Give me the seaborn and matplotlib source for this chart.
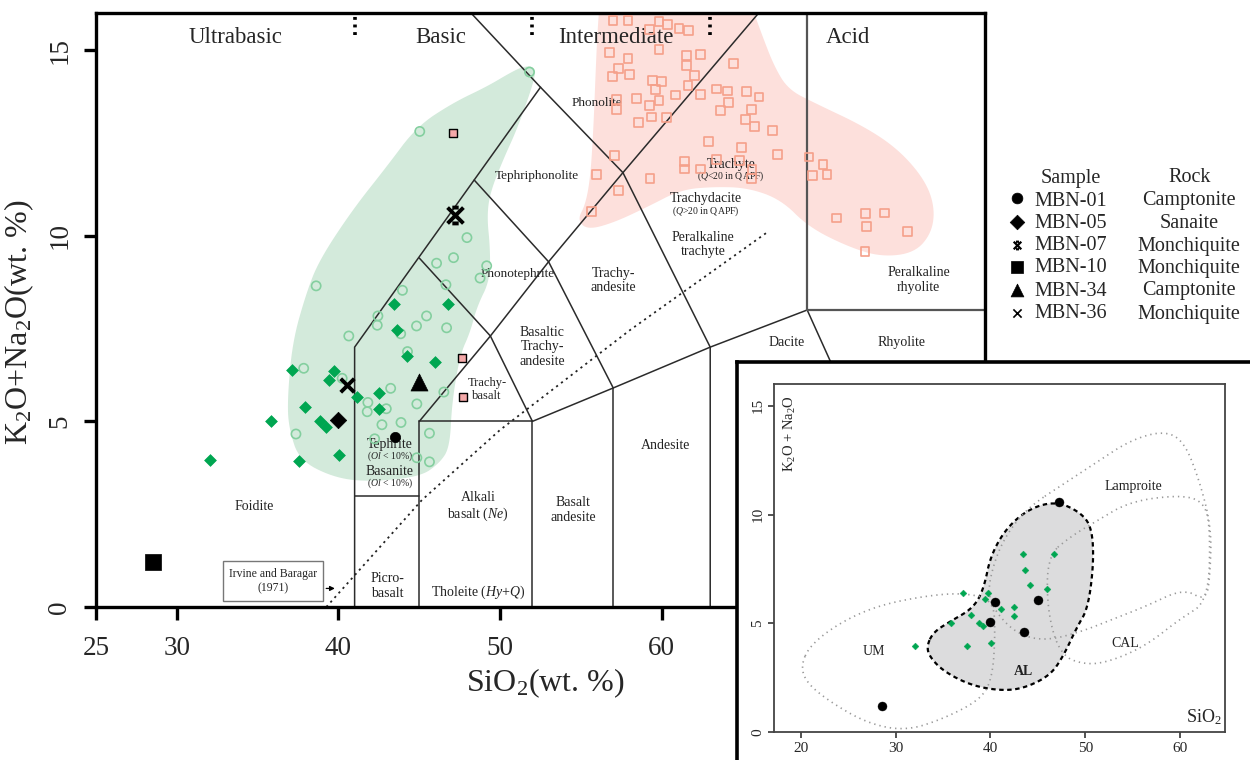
import numpy as np
import matplotlib
matplotlib.use("Agg")
import matplotlib.pyplot as plt
from matplotlib.path import Path
from matplotlib.patches import Polygon, Rectangle
import seaborn as sns

# ------------------------------------------------------------------ data
sample_ids = ["MBN-01", "MBN-05", "MBN-07", "MBN-10", "MBN-34", "MBN-36"]
sample_rocks = ["Camptonite", "Sanaite", "Monchiquite", "Monchiquite", "Camptonite", "Monchiquite"]
sample_sio2 = [43.5, 40.0, 47.2, 28.5, 45.0, 40.5]
sample_alk = [4.58, 5.04, 10.57, 1.21, 6.06, 5.98]

diamond_sio2 = [37.14, 39.73, 39.44, 41.15, 37.96, 38.83, 39.24, 35.84, 32.04, 37.55,
                40.02, 42.53, 42.53, 44.21, 46.00, 43.60, 43.41, 46.75]
diamond_alk = [6.39, 6.37, 6.12, 5.65, 5.38, 5.02, 4.86, 5.02, 3.96, 3.94,
               4.10, 5.76, 5.33, 6.75, 6.59, 7.45, 8.17, 8.17]

circle_sio2 = [51.82, 45.03, 47.95, 47.12, 46.07, 49.17, 48.76, 38.62, 43.96, 46.65,
               42.44, 42.40, 45.45, 44.83, 46.69, 43.85, 40.64, 44.27, 37.85, 40.23,
               43.23, 46.52, 41.82, 41.78, 42.96, 44.85, 42.69, 43.87, 37.37, 42.24,
               45.63, 44.85, 45.63]
circle_alk = [14.41, 12.81, 9.95, 9.41, 9.26, 9.19, 8.86, 8.65, 8.53, 8.68,
              7.84, 7.59, 7.84, 7.57, 7.52, 7.36, 7.30, 6.88, 6.43, 6.16,
              5.89, 5.79, 5.51, 5.26, 5.34, 5.47, 4.91, 4.97, 4.66, 4.53,
              4.68, 4.02, 3.91]

square_sio2 = [56.98, 57.91, 59.83, 60.35, 61.07, 61.66, 59.25, 59.83, 56.79, 57.91,
               61.53, 62.42, 64.43, 61.53, 57.31, 58.03, 56.96, 62.05, 59.42, 59.98,
               61.63, 59.63, 63.40, 64.06, 65.26, 66.02, 62.38, 60.87, 58.45, 59.83,
               64.12, 57.19, 57.19, 59.25, 63.66, 65.55, 60.31, 59.36, 65.17, 58.55,
               65.76, 66.83, 62.88, 64.95, 67.14, 57.06, 61.41, 61.41, 63.40, 62.38,
               64.80, 55.96, 59.27, 57.31, 55.65, 65.59, 65.55, 69.11, 69.98, 69.32,
               70.23, 70.81, 72.63, 73.77, 72.69, 75.22, 72.57]
square_alk = [15.80, 15.80, 15.78, 15.69, 15.58, 15.53, 15.55, 15.01, 14.94, 14.77,
              14.86, 14.88, 14.64, 14.58, 14.50, 14.35, 14.29, 14.32, 14.19, 14.16,
              14.04, 13.94, 13.95, 13.90, 13.89, 13.74, 13.81, 13.79, 13.70, 13.64,
              13.59, 13.67, 13.40, 13.50, 13.38, 13.40, 13.19, 13.20, 13.13, 13.04,
              12.94, 12.83, 12.53, 12.38, 12.18, 12.16, 12.00, 11.80, 12.05, 11.80,
              12.03, 11.66, 11.54, 11.21, 10.65, 11.78, 11.54, 12.12, 11.91, 11.62,
              11.65, 10.48, 10.59, 10.61, 10.25, 10.11, 9.57]

pinkfill_sio2 = [47.10, 47.67, 47.70]
pinkfill_alk = [12.78, 6.70, 5.65]

green_field = [(52.05, 14.56), (52.24, 14.34), (51.12, 12.94), (50.19, 12.05), (49.38, 11.16),
               (49.19, 10.51), (49.38, 9.70), (49.38, 8.81), (48.57, 8.09), (48.14, 7.39),
               (47.52, 6.79), (47.02, 5.50), (46.89, 4.31), (46.27, 3.88), (45.03, 3.50),
               (41.74, 3.37), (39.63, 3.50), (37.58, 3.96), (36.96, 4.77), (36.83, 5.50),
               (37.14, 7.12), (38.01, 8.46), (38.82, 9.35), (40.87, 10.70), (42.98, 11.86),
               (44.84, 12.94), (47.08, 13.58), (49.19, 14.02), (50.62, 14.39), (51.43, 14.56)]
pink_field = [(56.21, 16.6), (56.02, 15.47), (55.90, 14.29), (55.78, 12.94), (55.59, 11.59),
              (55.28, 10.84), (54.78, 10.43), (55.40, 10.16), (57.02, 10.35), (59.13, 10.78),
              (61.18, 11.24), (63.23, 11.32), (65.34, 11.29), (67.39, 10.97), (69.07, 10.24),
              (71.55, 9.70), (73.60, 9.43), (75.65, 9.54), (76.71, 10.08), (76.89, 10.78),
              (76.27, 11.51), (74.66, 12.32), (72.55, 12.94), (69.44, 13.58), (67.83, 13.94),
              (66.96, 14.56), (66.15, 15.47), (65.22, 16.6)]

tas_lines = [
    [(41, 0), (41, 7), (52.5, 14), (48.2, 16)],
    [(52.5, 14), (57.6, 11.7), (63, 7), (63, 0)],
    [(41, 3), (45, 3)],
    [(45, 0), (45, 5), (52, 5), (52, 0)],
    [(52, 5), (57, 5.9), (63, 7), (69, 8)],
    [(57, 0), (57, 5.9)],
    [(45, 5), (49.4, 7.3), (53, 9.3), (57.6, 11.7), (66.0, 16)],
    [(45, 9.4), (49.4, 7.3), (52, 5)],
    [(48.4, 11.5), (53, 9.3), (57, 5.9)],
    [(69, 8), (77.3, 0)],
]
acid_lines = [[(69, 8), (69, 16)], [(69, 8), (80, 8)]]
irvine_sio2 = [39.25, 45.16, 50.0, 58.07, 66.58]
irvine_alk = [0.0, 2.88, 4.77, 7.47, 10.11]

field_labels = [
    ("Phonolite", 55.96, 13.58, 9.5), ("Tephriphonolite", 52.30, 11.62, 9.5),
    ("Phonotephrite", 51.06, 8.98, 9.5), ("Trachyte", 64.29, 11.92, 10),
    ("Trachydacite", 62.73, 10.99, 10), ("Peralkaline\ntrachyte", 62.55, 9.76, 10),
    ("Trachy-\nandesite", 57.02, 8.79, 10), ("Basaltic\nTrachy-\nandesite", 52.61, 7.01, 10),
    ("Trachy-\nbasalt", 49.19, 5.85, 9), ("Tephrite", 43.17, 4.38, 10),
    ("Basanite", 43.17, 3.66, 10), ("Foidite", 34.78, 2.70, 10),
    ("Picro-\nbasalt", 43.04, 0.57, 10), ("Alkali\nbasalt ($\\it{Ne}$)", 48.63, 2.70, 10),
    ("Tholeite ($\\it{Hy}$+$\\it{Q}$)", 48.63, 0.40, 10), ("Basalt\nandesite", 54.53, 2.61, 10),
    ("Andesite", 60.25, 4.34, 10), ("Dacite", 67.70, 7.12, 10), ("Rhyolite", 74.84, 7.12, 10),
    ("Peralkaline\nrhyolite", 75.90, 8.81, 10),
]
small_labels = [
    ("($\\it{Q}$<20 in QAPF)", 64.29, 11.60), ("($\\it{Q}$>20 in QAPF)", 62.73, 10.67),
    ("($\\it{Ol}$ < 10%)", 43.17, 4.07), ("($\\it{Ol}$ < 10%)", 43.17, 3.33),
]
zone_labels = [("Ultrabasic", 33.66), ("Basic", 46.34), ("Intermediate", 57.14), ("Acid", 71.55)]
zone_ticks = [41, 52, 63]

# inset (lamprophyre classification) fields
um_field = [(20.0, 3.1), (21.0, 4.0), (24.0, 5.0), (28.0, 5.8), (33.0, 6.25), (37.0, 6.4),
            (40.3, 6.1), (40.5, 4.5), (40.2, 2.5), (39.0, 1.5), (35.0, 0.6), (31.0, 0.05),
            (27.0, 0.4), (23.0, 1.4), (20.5, 2.3)]
al_field = [(33.3, 4.0), (34.0, 4.6), (35.7, 5.07), (38.2, 5.7), (39.3, 6.6), (40.0, 8.1),
            (41.7, 9.4), (44.2, 10.3), (47.0, 10.6), (49.5, 10.1), (50.7, 9.4), (50.9, 7.8),
            (50.3, 5.7), (49.1, 4.8), (47.7, 3.5), (46.3, 2.6), (43.5, 2.0), (41.0, 1.9),
            (37.9, 2.15), (35.0, 2.8), (33.5, 3.5)]
lamp_field = [(44.2, 10.4), (47.7, 11.4), (51.2, 12.4), (54.7, 13.4), (58.2, 13.85), (60.4, 13.4),
              (62.1, 11.5), (63.3, 9.4), (63.2, 7.4), (62.8, 6.0), (60.4, 6.6), (56.5, 5.8),
              (53.0, 5.2), (49.5, 4.6), (45.9, 4.2), (43.1, 4.45), (41.0, 5.25), (39.6, 6.3),
              (40.5, 8.0), (42.0, 9.3)]
cal_field = [(46.0, 8.1), (48.5, 9.0), (51.2, 9.7), (54.7, 10.6), (60.0, 10.9), (62.5, 10.6),
             (63.2, 9.4), (63.0, 6.0), (60.0, 5.2), (56.5, 4.0), (53.0, 3.3), (50.2, 3.07),
             (47.4, 3.5), (46.0, 5.5)]
inset_labels = [("Lamproite", 55.08, 11.29, "normal"), ("UM", 27.66, 3.69, "normal"),
                ("CAL", 54.2, 4.07, "normal"), ("AL", 43.48, 2.76, "bold")]


def smooth(points, n=3):
    p = np.asarray(points, float)
    for _ in range(n):
        q = np.roll(p, -1, axis=0)
        p = np.column_stack([0.75 * p + 0.25 * q, 0.25 * p + 0.75 * q]).reshape(-1, 2)
    return p


# ------------------------------------------------------------------ style
sns.set_theme(style="ticks")
plt.rcParams["font.family"] = ["Liberation Serif", "DejaVu Serif"]
plt.rcParams["mathtext.fontset"] = "custom"
plt.rcParams["mathtext.rm"] = "Liberation Serif"
plt.rcParams["mathtext.it"] = "Liberation Serif:italic"
plt.rcParams["mathtext.bf"] = "Liberation Serif:bold"

fig = plt.figure(figsize=(12.5, 7.6), dpi=100)
W, H = 1250, 760
ax = fig.add_axes([96 / W, 1 - 607 / H, (985 - 96) / W, (607 - 13) / H], zorder=1)
ax.set_xlim(25, 80)
ax.set_ylim(0, 16)

# shaded fields
ax.add_patch(Polygon(smooth(green_field), closed=True, fc="#d3eadb", ec="none", zorder=1))
ax.add_patch(Polygon(smooth(pink_field), closed=True, fc="#fde0dc", ec="none", zorder=1))

for ln in tas_lines:
    xs, ys = zip(*ln)
    ax.plot(xs, ys, color="#2b2b2b", lw=1.1, zorder=2, solid_joinstyle="miter")
for ln in acid_lines:
    xs, ys = zip(*ln)
    ax.plot(xs, ys, color="#555555", lw=1.6, zorder=2)
ax.plot(irvine_sio2, irvine_alk, color="#222222", lw=1.3, ls=(0, (1.2, 2.2)), zorder=2)
for xt in zone_ticks:
    ax.plot([xt, xt], [15.42, 15.98], color="black", lw=2.6, ls=(0, (0.8, 1.3)), zorder=2)
for name, xc in zone_labels:
    ax.text(xc, 15.34, name, ha="center", va="center", fontsize=16.5, zorder=3)
for name, xc, yc, fs in field_labels:
    ax.text(xc, yc, name, ha="center", va="center", fontsize=fs, linespacing=1.15,
            color="#222222", zorder=3)
for name, xc, yc in small_labels:
    ax.text(xc, yc, name, ha="center", va="center", fontsize=7, color="#222222", zorder=3)

ax.add_patch(Rectangle((32.86, 0.16), 6.21, 1.08, fc="white", ec="#777777", lw=1.0, zorder=3))
ax.text(35.96, 0.70, "Irvine and Baragar\n(1971)", ha="center", va="center", fontsize=8.5,
        linespacing=1.2, zorder=4)
ax.annotate("", xy=(39.95, 0.50), xytext=(39.07, 0.50),
            arrowprops=dict(arrowstyle="-|>", lw=0.9, color="black", mutation_scale=7), zorder=4)

# points
sns.scatterplot(x=circle_sio2, y=circle_alk, ax=ax, marker="o", s=44, zorder=4, legend=False)
ax.collections[-1].set_facecolor("none")
ax.collections[-1].set_edgecolor("#84cf9f")
ax.collections[-1].set_linewidth(1.2)
sns.scatterplot(x=square_sio2, y=square_alk, ax=ax, marker="s", s=40, zorder=4, legend=False)
ax.collections[-1].set_facecolor("none")
ax.collections[-1].set_edgecolor("#f5a08a")
ax.collections[-1].set_linewidth(1.2)
sns.scatterplot(x=pinkfill_sio2, y=pinkfill_alk, ax=ax, marker="s", s=38, color="#f4a9a9",
                edgecolor="black", linewidth=1.0, zorder=5, legend=False)
sns.scatterplot(x=diamond_sio2, y=diamond_alk, ax=ax, marker="D", s=36, color="#00a651",
                edgecolor="#00a651", linewidth=0.5, zorder=5, legend=False)

xbar = Path([(-1, -1), (1, 1), (-1, 1), (1, -1), (-0.4, 1), (0.4, 1), (-0.4, -1), (0.4, -1)],
            [Path.MOVETO, Path.LINETO, Path.MOVETO, Path.LINETO,
             Path.MOVETO, Path.LINETO, Path.MOVETO, Path.LINETO])
sample_markers = ["o", "D", xbar, "s", "^", "x"]
sample_sizes = [55, 70, 130, 120, 150, 95]
for i in range(len(sample_ids)):
    m = sample_markers[i]
    if m in ("x",):
        sns.scatterplot(x=[sample_sio2[i]], y=[sample_alk[i]], ax=ax, marker=m, s=sample_sizes[i],
                        color="black", linewidth=2.8, zorder=6, legend=False)
    elif isinstance(m, Path):
        sns.scatterplot(x=[sample_sio2[i]], y=[sample_alk[i]], ax=ax, marker=m, s=sample_sizes[i],
                        color="black", edgecolor="black", linewidth=2.8, zorder=6, legend=False)
    else:
        sns.scatterplot(x=[sample_sio2[i]], y=[sample_alk[i]], ax=ax, marker=m, s=sample_sizes[i],
                        color="black", edgecolor="black", linewidth=0.5, zorder=6, legend=False)

# axes styling
for sp in ax.spines.values():
    sp.set_visible(True)
    sp.set_linewidth(2.4)
    sp.set_color("black")
ax.set_xticks([25, 30, 40, 50, 60])
ax.set_yticks([0, 5, 10, 15])
ax.tick_params(axis="both", direction="out", length=9, width=2.4, labelsize=19.5, color="black")
ax.tick_params(axis="x", pad=12)
ax.tick_params(axis="y", pad=8)
for lab in ax.get_yticklabels():
    lab.set_rotation(90)
    lab.set_va("center")
ax.set_xlabel("SiO$_2$(wt. %)", fontsize=23)
ax.set_ylabel("K$_2$O+Na$_2$O(wt. %)", fontsize=23)
ax.xaxis.set_label_coords(0.505, -0.10)
ax.yaxis.set_label_coords(-0.068, 0.48)

# ------------------------------------------------------------------ legend (pixel space)
lg = fig.add_axes([0, 0, 1, 1], zorder=3)
lg.set_xlim(0, W)
lg.set_ylim(H, 0)
lg.axis("off")
lg.patch.set_alpha(0)
lg.text(1071, 178, "Sample", ha="center", va="center", fontsize=14.5)
lg.text(1190, 178, "Rock", ha="center", va="center", fontsize=14.5)
row_y = [200, 222, 245, 267, 290, 313]
leg_sizes = [60, 55, 30, 75, 85, 35]
for i in range(len(sample_ids)):
    m = sample_markers[i]
    kw = dict(color="black", zorder=4, legend=False)
    if m == "x":
        kw.update(linewidth=1.2)
    elif isinstance(m, Path):
        kw.update(edgecolor="black", linewidth=1.6)
    else:
        kw.update(edgecolor="black", linewidth=0.5)
    sns.scatterplot(x=[1017], y=[row_y[i] - 2 if i == 0 else row_y[i]], ax=lg, marker=m,
                    s=leg_sizes[i], **kw)
    lg.text(1034, row_y[i] + 1, sample_ids[i], ha="left", va="center", fontsize=14.5)
    lg.text(1189, row_y[i] + 1, sample_rocks[i], ha="center", va="center", fontsize=14.5)

# ------------------------------------------------------------------ inset frame
fr = fig.add_axes([737 / W, -0.02, (W - 737) / W + 0.02, (760 - 362) / H + 0.02], zorder=5)
fr.set_facecolor("white")
fr.set_xticks([])
fr.set_yticks([])
for side, sp in fr.spines.items():
    sp.set_visible(side in ("left", "top"))
    sp.set_linewidth(2.6)
    sp.set_color("black")

ins = fig.add_axes([774 / W, 1 - 732 / H, (1225 - 774) / W, (732 - 384) / H], zorder=6)
ins.set_xlim(17.15, 64.75)
ins.set_ylim(0, 16)
ins.set_facecolor("white")
ins.add_patch(Polygon(smooth(al_field), closed=True, fc="#dcdcdd", ec="black", lw=1.6,
                      ls=(0, (2.0, 1.6)), zorder=2))
for fld in (um_field, lamp_field, cal_field):
    ins.add_patch(Polygon(smooth(fld), closed=True, fc="none", ec="#999999", lw=1.2,
                          ls=(0, (0.8, 2.4)), zorder=3))
sns.scatterplot(x=diamond_sio2, y=diamond_alk, ax=ins, marker="D", s=12, color="#00a651",
                edgecolor="#00a651", linewidth=0.3, zorder=5, legend=False)
sns.scatterplot(x=sample_sio2, y=sample_alk, ax=ins, marker="o", s=42, color="black",
                edgecolor="black", linewidth=0.3, zorder=6, legend=False)
for name, xc, yc, wt in inset_labels:
    ins.text(xc, yc, name, ha="center", va="center", fontsize=10, fontweight=wt, color="#222222",
             zorder=7)
ins.text(18.85, 13.7, "K$_2$O + Na$_2$O", rotation=90, ha="center", va="center", fontsize=10.5)
ins.text(64.4, 0.25, "SiO$_2$", ha="right", va="bottom", fontsize=13)
for sp in ins.spines.values():
    sp.set_visible(True)
    sp.set_linewidth(1.3)
    sp.set_color("#444444")
ins.set_xticks([20, 30, 40, 50, 60])
ins.set_yticks([0, 5, 10, 15])
ins.tick_params(axis="both", direction="out", length=4, width=1.3, labelsize=11, color="#444444",
                pad=3)
for lab in ins.get_yticklabels():
    lab.set_rotation(90)
    lab.set_va("center")

fig.savefig("out.png", dpi=100)
